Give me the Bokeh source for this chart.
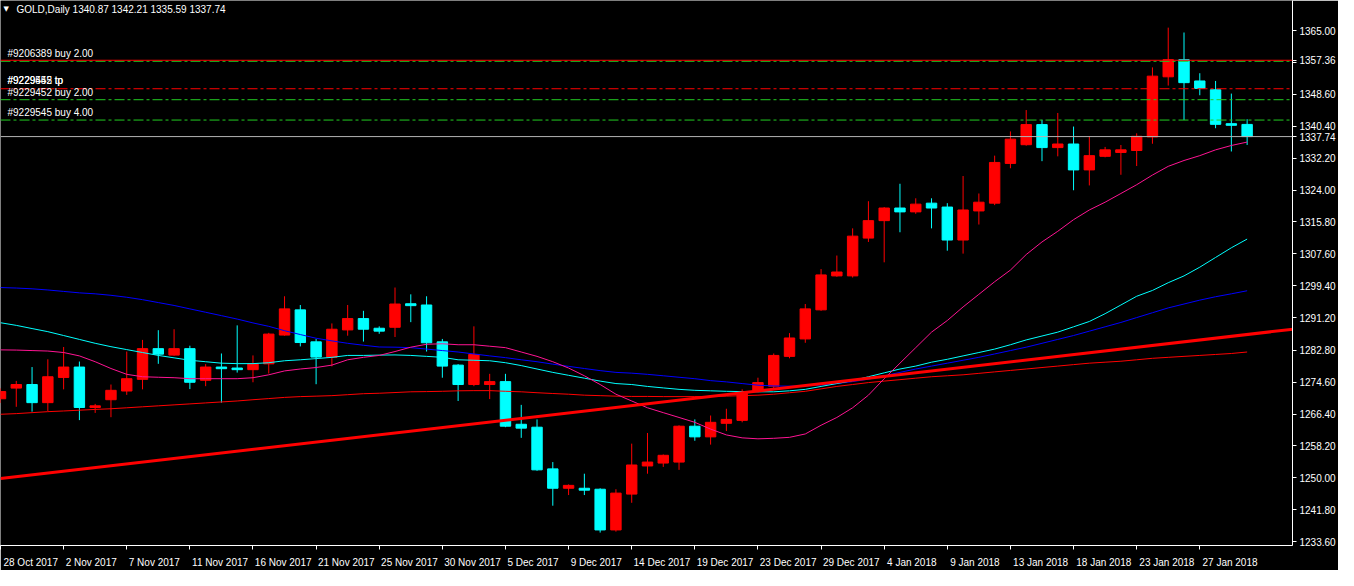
from bokeh.plotting import figure
from bokeh.models import Range1d, FixedTicker, Span, Label, LinearAxis, ColumnDataSource
from bokeh.embed import file_html
from bokeh.resources import INLINE

# ---------------- data ----------------
header_text = "GOLD,Daily  1340.87 1342.21 1335.59 1337.74"

opens = [1270.33, 1273.07, 1273.99, 1269.33, 1275.81, 1278.48, 1268.09, 1270.08, 1272.32, 1275.32,
         1283.22, 1281.55, 1283.22, 1275.07, 1278.48, 1278.23, 1277.81, 1279.31, 1286.71, 1293.19,
         1284.97, 1280.98, 1288.03, 1290.95, 1288.46, 1288.71, 1294.76, 1294.44, 1284.97, 1278.98,
         1273.99, 1273.99, 1274.74, 1263.77, 1263.02, 1252.30, 1247.32, 1247.32, 1247.07, 1236.60,
         1245.82, 1253.05, 1253.80, 1254.05, 1263.27, 1260.53, 1264.02, 1264.77, 1272.50, 1273.57,
         1281.23, 1285.71, 1293.19, 1301.92, 1301.92, 1311.64, 1316.13, 1319.37, 1318.38, 1320.62,
         1319.62, 1311.14, 1318.62, 1320.62, 1330.84, 1335.65, 1340.82, 1334.91, 1335.83, 1329.17,
         1332.66, 1333.66, 1334.16, 1337.65, 1353.11, 1357.52, 1352.04, 1349.79, 1341.06, 1340.87]
highs = [1273.00, 1274.92, 1278.48, 1280.48, 1283.64, 1279.90, 1269.01, 1273.99, 1282.47, 1285.46,
         1287.96, 1288.21, 1283.97, 1279.23, 1281.97, 1289.20, 1281.47, 1287.28, 1296.68, 1294.44,
         1285.71, 1289.70, 1294.44, 1292.94, 1288.95, 1298.93, 1297.18, 1296.68, 1285.71, 1279.23,
         1288.95, 1276.74, 1276.74, 1268.76, 1265.02, 1254.05, 1248.31, 1251.06, 1247.32, 1247.07,
         1258.79, 1261.53, 1256.00, 1263.50, 1265.02, 1266.02, 1267.76, 1272.75, 1275.74, 1281.97,
         1287.21, 1294.69, 1303.67, 1307.16, 1314.14, 1321.12, 1319.62, 1325.61, 1321.87, 1321.87,
         1320.62, 1327.60, 1323.11, 1332.84, 1339.07, 1344.56, 1342.06, 1343.81, 1340.32, 1337.82,
         1335.08, 1335.58, 1338.57, 1355.53, 1365.75, 1364.50, 1354.03, 1352.04, 1348.79, 1342.21]
lows = [1269.26, 1268.26, 1267.01, 1267.19, 1272.75, 1264.84, 1266.69, 1265.59, 1271.33, 1272.75,
        1279.31, 1281.40, 1272.82, 1273.57, 1269.33, 1277.06, 1274.57, 1276.81, 1286.54, 1283.79,
        1274.07, 1278.66, 1286.54, 1285.04, 1287.03, 1286.21, 1290.03, 1282.47, 1275.74, 1269.76,
        1273.57, 1270.25, 1263.02, 1260.28, 1251.80, 1242.83, 1245.57, 1245.57, 1235.92, 1236.17,
        1243.58, 1251.06, 1252.80, 1252.05, 1259.53, 1258.54, 1262.03, 1264.27, 1272.00, 1273.00,
        1280.73, 1284.72, 1292.94, 1301.70, 1301.50, 1310.65, 1305.41, 1313.14, 1317.88, 1314.14,
        1308.40, 1307.65, 1315.13, 1320.12, 1329.60, 1335.40, 1331.42, 1332.66, 1323.94, 1325.18,
        1332.41, 1327.92, 1330.17, 1335.90, 1350.86, 1341.99, 1348.37, 1339.89, 1333.91, 1335.59]
closes = [1272.18, 1273.99, 1269.33, 1275.99, 1278.48, 1268.09, 1268.51, 1272.50, 1275.49, 1283.22,
          1281.80, 1283.22, 1274.57, 1278.48, 1278.06, 1277.81, 1279.31, 1286.96, 1293.44, 1284.79,
          1281.05, 1288.21, 1290.95, 1288.21, 1287.71, 1294.69, 1294.27, 1284.72, 1278.73, 1273.99,
          1281.72, 1274.74, 1263.27, 1262.77, 1252.05, 1247.32, 1248.06, 1246.82, 1236.60, 1246.07,
          1253.30, 1254.05, 1255.79, 1263.27, 1260.53, 1264.27, 1265.02, 1271.75, 1274.49, 1281.47,
          1285.96, 1293.44, 1302.17, 1302.92, 1312.14, 1316.13, 1319.37, 1318.38, 1320.37, 1319.37,
          1311.14, 1318.87, 1320.87, 1331.09, 1337.08, 1340.82, 1334.91, 1335.83, 1329.17, 1332.84,
          1334.33, 1334.33, 1337.82, 1353.28, 1357.52, 1351.61, 1350.12, 1340.89, 1340.64, 1337.74]

ma_pink = [1282.90, 1282.85, 1282.72, 1282.60, 1282.22, 1281.35, 1279.85, 1278.11, 1276.61, 1275.99,
           1275.86, 1275.74, 1275.49, 1275.49, 1275.49, 1275.49, 1275.74, 1276.49, 1277.49, 1277.98,
           1278.36, 1278.98, 1280.35, 1280.98, 1281.47, 1282.47, 1283.59, 1284.34, 1284.47, 1284.22,
           1284.22, 1283.84, 1283.47, 1282.35, 1281.23, 1279.85, 1278.23, 1276.24, 1273.99, 1271.50,
           1269.76, 1268.01, 1266.76, 1265.52, 1264.27, 1262.53, 1261.03, 1260.28, 1260.03, 1260.16,
           1260.41, 1261.28, 1263.52, 1265.52, 1268.01, 1271.25, 1275.49, 1279.48, 1283.47, 1287.46,
           1290.45, 1293.94, 1297.18, 1300.42, 1303.42, 1307.41, 1310.65, 1313.39, 1316.38, 1318.87,
           1320.87, 1323.11, 1325.36, 1327.85, 1330.09, 1331.59, 1332.84, 1334.33, 1335.45, 1336.33]
ma_cyan = [1289.88, 1289.20, 1288.38, 1287.58, 1286.59, 1285.59, 1284.59, 1283.72, 1282.97, 1282.22,
           1281.47, 1280.85, 1280.23, 1279.85, 1279.48, 1279.36, 1279.36, 1279.60, 1280.10, 1280.35,
           1280.65, 1280.98, 1281.47, 1281.47, 1281.55, 1281.60, 1281.47, 1281.23, 1280.98, 1280.35,
           1280.23, 1280.10, 1279.60, 1278.86, 1277.98, 1277.11, 1276.36, 1275.62, 1274.87, 1274.24,
           1273.99, 1273.50, 1273.12, 1272.75, 1272.50, 1272.37, 1272.25, 1272.17, 1272.12, 1272.12,
           1272.37, 1272.75, 1273.50, 1274.24, 1274.99, 1275.99, 1276.99, 1277.98, 1278.73, 1279.73,
           1280.48, 1281.35, 1282.22, 1283.10, 1284.22, 1285.46, 1286.46, 1287.46, 1288.83, 1290.20,
           1292.20, 1294.44, 1296.68, 1298.18, 1300.17, 1301.92, 1304.16, 1306.66, 1309.15, 1311.39]
ma_blue = [1298.93, 1298.80, 1298.60, 1298.30, 1297.93, 1297.56, 1297.31, 1296.93, 1296.43, 1295.81,
           1295.06, 1294.32, 1293.44, 1292.57, 1291.70, 1290.82, 1289.83, 1288.95, 1287.83, 1286.84,
           1285.89, 1285.21, 1284.59, 1284.09, 1283.64, 1283.59, 1283.47, 1283.10, 1282.72, 1282.35,
           1281.85, 1281.35, 1280.90, 1280.35, 1279.85, 1279.23, 1278.66, 1278.11, 1277.56, 1277.11,
           1276.91, 1276.61, 1276.24, 1275.86, 1275.49, 1274.99, 1274.67, 1274.24, 1273.82, 1273.62,
           1273.57, 1273.62, 1273.87, 1274.24, 1274.74, 1275.37, 1276.24, 1277.11, 1277.98, 1278.73,
           1279.48, 1280.23, 1280.98, 1281.85, 1282.72, 1283.59, 1284.59, 1285.59, 1286.59, 1287.71,
           1288.83, 1289.95, 1291.20, 1292.45, 1293.69, 1294.69, 1295.69, 1296.56, 1297.31, 1298.10]
ma_red = [1266.34, 1266.51, 1266.76, 1267.01, 1267.19, 1267.39, 1267.59, 1267.76, 1268.01, 1268.26,
          1268.51, 1268.76, 1269.01, 1269.26, 1269.51, 1269.76, 1270.08, 1270.38, 1270.68, 1270.88,
          1271.00, 1271.13, 1271.38, 1271.63, 1271.75, 1271.93, 1272.12, 1272.17, 1272.25, 1272.37,
          1272.42, 1272.42, 1272.25, 1272.12, 1271.88, 1271.68, 1271.50, 1271.25, 1271.13, 1271.00,
          1270.93, 1270.93, 1270.88, 1270.88, 1270.88, 1270.93, 1271.00, 1271.13, 1271.25, 1271.50,
          1271.88, 1272.25, 1272.87, 1273.50, 1273.99, 1274.49, 1274.87, 1275.24, 1275.62, 1275.99,
          1276.24, 1276.49, 1276.86, 1277.24, 1277.61, 1277.98, 1278.36, 1278.73, 1279.11, 1279.48,
          1279.73, 1279.98, 1280.35, 1280.73, 1280.98, 1281.23, 1281.47, 1281.72, 1281.97, 1282.35]

trend_bars = [0, 82]
trend_prices = [1249.81, 1288.26]

date_labels = ["28 Oct 2017", "2 Nov 2017", "7 Nov 2017", "11 Nov 2017", "16 Nov 2017",
               "21 Nov 2017", "25 Nov 2017", "30 Nov 2017", "5 Dec 2017", "9 Dec 2017",
               "14 Dec 2017", "19 Dec 2017", "23 Dec 2017", "29 Dec 2017", "4 Jan 2018",
               "9 Jan 2018", "13 Jan 2018", "18 Jan 2018", "23 Jan 2018", "27 Jan 2018"]
bars_per_label = 4

price_tick_labels = ["1365.00", "1356.80", "1348.60", "1340.40", "1332.20", "1324.00", "1315.80",
                     "1307.60", "1299.40", "1291.20", "1282.80", "1274.60", "1266.40", "1258.20",
                     "1250.00", "1241.80", "1233.60"]

alert_price = 1357.36
bid_price = 1337.74
buy_order_prices = [1357.10, 1347.22, 1341.99]
buy_order_texts = ["#9206389 buy 2.00", "#9229452 buy 2.00", "#9229545 buy 4.00"]
tp_price = 1350.04
tp_texts = ["#9229452 tp", "#9229545 tp"]

# ---------------- figure ----------------
FONT = "Liberation Sans"
RED = "#FF0000"
CYAN = "#00FFFF"

bars = list(range(len(opens)))
x_start, x_end = 0.0, 81.875
y_start, y_end = 1232.60, 1372.73

p = figure(width=1338, height=570, output_backend="svg", toolbar_location=None,
           x_range=Range1d(x_start, x_end), y_range=Range1d(y_start, y_end),
           y_axis_location="right", tools="")
p.background_fill_color = "black"
p.border_fill_color = "black"
p.outline_line_color = None
p.xgrid.visible = False
p.ygrid.visible = False
p.min_border_left = 0
p.min_border_top = 0
p.min_border_right = 0
p.min_border_bottom = 24

# y axis (right); the two marked prices are shown as axis labels too
ticks = [float(s) for s in price_tick_labels]
overrides = {t: s for t, s in zip(ticks, price_tick_labels)}
overrides[ticks[1]] = ""          # covered by the marked price, as in the terminal
for m in (alert_price, bid_price):
    ticks.append(m)
    overrides[m] = f"{m:.2f}"
p.yaxis.ticker = FixedTicker(ticks=ticks)
p.yaxis.major_label_overrides = overrides
p.yaxis.axis_line_color = "white"
p.yaxis.major_tick_line_color = "white"
p.yaxis.major_tick_in = 0
p.yaxis.major_tick_out = 4
p.yaxis.minor_tick_line_color = None
p.yaxis.major_label_text_color = "white"
p.yaxis.major_label_text_font = FONT
p.yaxis.major_label_text_font_size = "10px"
p.yaxis.major_label_standoff = 3

# x axis (bottom): tick marks at the bars
xticks = [i * bars_per_label for i in range(len(date_labels))]
p.xaxis.ticker = FixedTicker(ticks=xticks)
p.xaxis.major_label_overrides = {t: "" for t in xticks}
p.xaxis.major_label_text_font_size = "0px"
p.xaxis.major_label_standoff = 0
p.xaxis.axis_line_color = "white"
p.xaxis.major_tick_line_color = "white"
p.xaxis.major_tick_in = 0
p.xaxis.major_tick_out = 4
p.xaxis.minor_tick_line_color = None

# second axis carrying the date texts, which start at their tick (MT4 style)
label_pos = [t + 0.165 * len(s) + 0.1 for t, s in zip(xticks, date_labels)]
date_axis = LinearAxis(ticker=FixedTicker(ticks=label_pos),
                       major_label_overrides={pos: s for pos, s in zip(label_pos, date_labels)},
                       axis_line_color=None, major_tick_line_color=None,
                       minor_tick_line_color=None, major_label_standoff=1,
                       major_label_text_color="white", major_label_text_font=FONT,
                       major_label_text_font_size="10px")
p.add_layout(date_axis, "below")

# candles
colors = [RED if c >= o else CYAN for o, c in zip(opens, closes)]
src = ColumnDataSource(dict(
    x=bars, h=highs, l=lows,
    top=[max(o, c) for o, c in zip(opens, closes)],
    bottom=[min(o, c) for o, c in zip(opens, closes)],
    color=colors))
p.segment(x0="x", y0="h", x1="x", y1="l", line_color="color", line_width=1, source=src)
p.vbar(x="x", width=0.66, top="top", bottom="bottom", fill_color="color",
       line_color="color", line_width=1, source=src)

# moving averages
p.line(bars, ma_red, line_color=RED, line_width=1)
p.line(bars, ma_blue, line_color="#0000FF", line_width=1)
p.line(bars, ma_cyan, line_color=CYAN, line_width=1)
p.line(bars, ma_pink, line_color="#FF1493", line_width=1)

# trend line
p.line(trend_bars, trend_prices, line_color=RED, line_width=3)

# horizontal lines
DASHDOT = "10 3 3 3"
for pr in buy_order_prices:
    p.add_layout(Span(location=pr, dimension="width", line_color="#22CC22",
                      line_dash=DASHDOT, line_width=1))
p.add_layout(Span(location=tp_price, dimension="width", line_color=RED,
                  line_dash=DASHDOT, line_width=1))
p.add_layout(Span(location=alert_price, dimension="width", line_color=RED, line_width=1))
p.add_layout(Span(location=bid_price, dimension="width", line_color="#B4B4B4", line_width=1))

# order labels
for pr, t in zip(buy_order_prices, buy_order_texts):
    p.add_layout(Label(x=x_start, y=pr, x_offset=7, y_offset=2, text=t, text_color="white",
                       text_font=FONT, text_font_size="10px", text_baseline="bottom"))
for t in tp_texts:
    p.add_layout(Label(x=x_start, y=tp_price, x_offset=7, y_offset=3, text=t, text_color="white",
                       text_font=FONT, text_font_size="10px", text_baseline="bottom"))

# header
p.add_layout(Label(x=x_start, y=y_end, x_offset=3, y_offset=-4, text="\u25BC", text_color="white",
                   text_font="DejaVu Sans", text_font_size="7px", text_baseline="top"))
p.add_layout(Label(x=x_start, y=y_end, x_offset=16, y_offset=-3, text=header_text,
                   text_color="white", text_font=FONT, text_font_size="10px", text_baseline="top"))

open("out.html", "w").write(file_html(p, INLINE))
